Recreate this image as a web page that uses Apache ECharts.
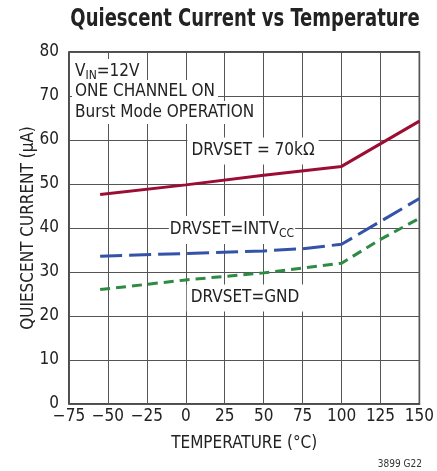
<!DOCTYPE html>
<html>
<head>
<meta charset="utf-8">
<script src="https://cdn.jsdelivr.net/npm/echarts@6/dist/echarts.min.js"></script>
<style>
html,body{margin:0;padding:0;background:#fff;}
#chart{width:437px;height:471px;}
</style>
</head>
<body>
<div id="chart"></div>
<script>
// ---- data ----
const xTicks = [-75, -50, -25, 0, 25, 50, 75, 100, 125, 150];
const yTicks = [0, 10, 20, 30, 40, 50, 60, 70, 80];
const tempRed = [-55, 0, 50, 100, 150];
const currentRed = [47.6, 49.8, 52.0, 54.0, 64.3];
const tempBlue = [-55, 0, 50, 75, 100, 150];
const currentBlue = [33.6, 34.2, 34.8, 35.3, 36.3, 46.7];
const tempGreen = [-55, 0, 50, 100, 125, 150];
const currentGreen = [26.0, 28.2, 29.8, 32.0, 37.4, 42.2];

const FONT = "'Liberation Sans Narrow', 'DejaVu Sans Condensed', 'Arial Narrow', sans-serif";
const TXT = '#222';

function pairs(xs, ys) { return xs.map((x, i) => [x, ys[i]]); }

const chart = echarts.init(document.getElementById('chart'), null, {renderer: 'canvas'});

const richSub = {
  a: {fontFamily: FONT, fontSize: 17, lineHeight: 20, color: TXT, verticalAlign: 'middle'},
  s: {fontFamily: FONT, fontSize: 12, lineHeight: 12, color: TXT, verticalAlign: 'middle', padding: [8, 0, 0, 0]}
};

const annoStyle = (extra) => Object.assign({
  fontFamily: FONT, fontSize: 17, fill: TXT,
  backgroundColor: '#fff', padding: [3, 3, 3, 3]
}, extra);

chart.setOption({
  animation: false,
  backgroundColor: '#fff',
  grid: {left: 69, right: 16, top: 52, bottom: 67, show: true, borderColor: '#111', borderWidth: 1.5, z: 0},
  xAxis: {
    type: 'value', min: xTicks[0], max: xTicks[xTicks.length - 1], interval: 25,
    name: 'TEMPERATURE (°C)', nameLocation: 'middle', nameGap: 31,
    nameTextStyle: {fontFamily: FONT, fontSize: 17, color: TXT},
    axisLine: {show: false}, axisTick: {show: false},
    axisLabel: {fontFamily: FONT, fontSize: 17, color: TXT, margin: 4,
      formatter: v => String(v).replace('-', '\u2212')},
    splitLine: {show: true, lineStyle: {color: '#555', width: 1}}
  },
  yAxis: {
    type: 'value', min: yTicks[0], max: yTicks[yTicks.length - 1], interval: 10,
    name: 'QUIESCENT CURRENT (µA)', nameLocation: 'middle', nameGap: 32, nameMoveOverlap: false,
    nameTextStyle: {fontFamily: FONT, fontSize: 17, color: TXT},
    axisLine: {show: false}, axisTick: {show: false},
    axisLabel: {fontFamily: FONT, fontSize: 17, color: TXT, margin: 10},
    splitLine: {show: true, lineStyle: {color: '#555', width: 1}}
  },
  series: [
    {type: 'line', data: pairs(tempRed, currentRed), showSymbol: false, symbol: 'none', z: 5,
     lineStyle: {color: '#9c0d34', width: 3}},
    {type: 'line', data: pairs(tempBlue, currentBlue), showSymbol: false, symbol: 'none', z: 5,
     lineStyle: {color: '#3352a8', width: 3, type: [22, 7]}},
    {type: 'line', data: pairs(tempGreen, currentGreen), showSymbol: false, symbol: 'none', z: 5,
     lineStyle: {color: '#2f8a43', width: 3, type: [10, 6]}}
  ],
  graphic: [
    {type: 'text', z: 3, x: 245, y: 19, scaleX: 0.8,
     style: {text: 'Quiescent Current vs Temperature', align: 'center', verticalAlign: 'middle',
       fontFamily: FONT, fontSize: 25, fontWeight: 'bold', fill: '#222'}},
    {type: 'text', z: 3, left: 72, top: 59,
     style: annoStyle({text: '{a|V}{s|IN}{a|=12V}', rich: richSub})},
    {type: 'text', z: 3, left: 72, top: 80,
     style: annoStyle({text: 'ONE CHANNEL ON'})},
    {type: 'text', z: 3, left: 72, top: 101,
     style: annoStyle({text: 'Burst Mode OPERATION'})},
    {type: 'text', z: 3, x: 253, y: 151,
     style: annoStyle({text: 'DRVSET = 70kΩ', align: 'center', verticalAlign: 'middle', padding: [5, 4, 5, 4]})},
    {type: 'text', z: 3, x: 232, y: 230,
     style: annoStyle({text: '{a|DRVSET=INTV}{s|CC}', align: 'center', verticalAlign: 'middle', padding: [4, 1, 4, 1],
       rich: richSub})},
    {type: 'text', z: 3, x: 245, y: 298,
     style: annoStyle({text: 'DRVSET=GND', align: 'center', verticalAlign: 'middle', padding: [5, 4, 5, 4]})},
    {type: 'text', z: 3, right: 15, bottom: 2,
     style: {text: '3899 G22', fontFamily: FONT, fontSize: 10, fill: '#333'}}
  ]
});
</script>
</body>
</html>
